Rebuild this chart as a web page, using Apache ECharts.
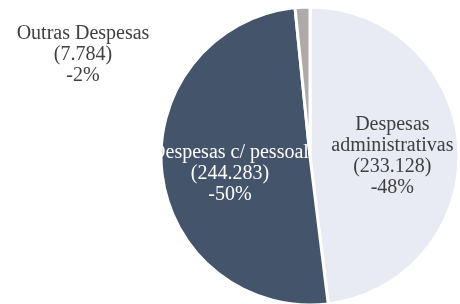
<!DOCTYPE html>
<html>
<head>
<meta charset="utf-8">
<script src="https://cdn.jsdelivr.net/npm/echarts@6/dist/echarts.min.js"></script>
<style>
    html, body { margin: 0; padding: 0; background: #fff; }
    #chart { width: 460px; height: 304px; }
</style>
</head>
<body>
<div id="chart"></div>
<script>
var categories = ['Despesas\nadministrativas', 'Despesas c/ pessoal', 'Outras Despesas'];
var values = [233128, 244283, 7784];
var colors = ['#e8eaf4', '#44546a', '#aeaaaa'];
var labelColors = ['#404040', '#ffffff', '#404040'];

// 233128 -> "233.128"
function fmtMil(v) {
    return String(v).replace(/\B(?=(\d{3})+(?!\d))/g, '.');
}

var pieData = [];
for (var i = 0; i < categories.length; i++) {
    pieData.push({
        name: categories[i],
        value: values[i],
        itemStyle: { color: colors[i] },
        label: { color: labelColors[i] }
    });
}
// a fatia pequena tem o rotulo puxado para fora, no canto superior esquerdo
pieData[2].label.position = 'outside';
pieData[2].labelLine = { show: false };

var chart = echarts.init(document.getElementById('chart'));
chart.setOption({
    animation: false,
    series: [{
        type: 'pie',
        center: [310, 156],
        radius: [0, 149],
        startAngle: 90,
        clockwise: true,
        itemStyle: {
            borderColor: '#ffffff',
            borderWidth: 3
        },
        emphasis: { disabled: true },
        label: {
            show: true,
            position: 'inside',
            fontFamily: 'Liberation Serif',
            fontSize: 20,
            lineHeight: 21,
            align: 'center',
            formatter: function (p) {
                return p.name + '\n(' + fmtMil(p.value) + ')\n-' + Math.round(p.percent) + '%';
            }
        },
        labelLayout: function (p) {
            if (p.dataIndex === 0) return { dx: 5, dy: 5 };
            if (p.dataIndex === 1) return { dx: -3, dy: 9 };
            return { x: 83, y: 55, align: 'center', verticalAlign: 'middle' };
        },
        data: pieData
    }]
});
</script>
</body>
</html>
